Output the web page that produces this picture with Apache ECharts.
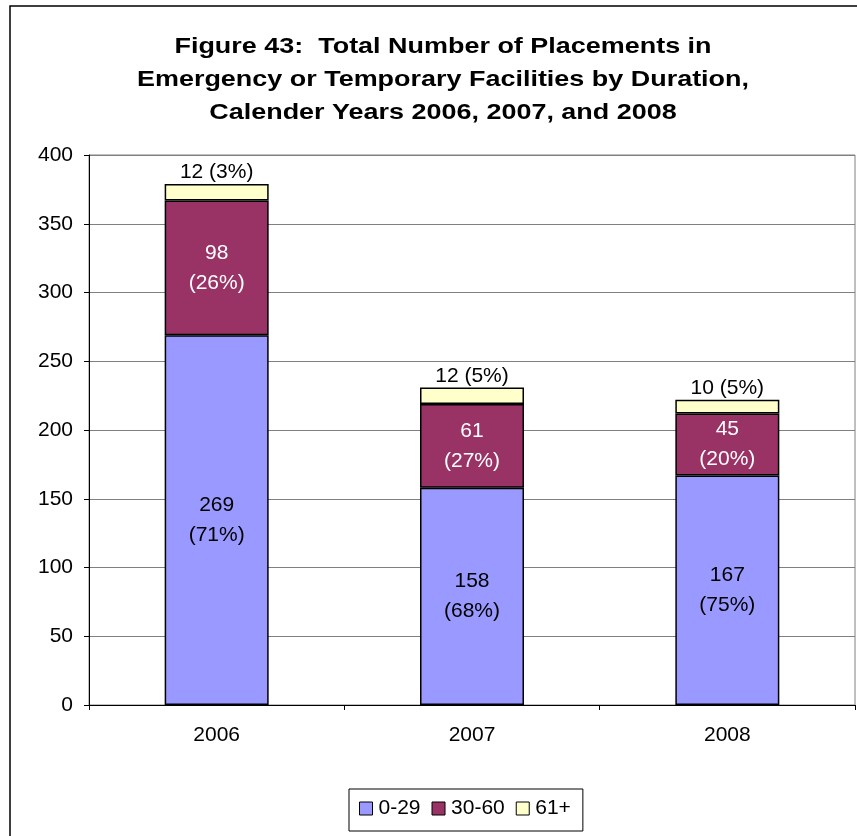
<!DOCTYPE html>
<html>
<head>
<meta charset="utf-8">
<script src="https://cdn.jsdelivr.net/npm/echarts@6/dist/echarts.min.js"></script>
<style>
  html, body { margin: 0; padding: 0; background: #fff; }
  #chart { width: 857px; height: 836px; }
</style>
</head>
<body>
<div id="chart"></div>
<script>
let years = ['2006', '2007', '2008']
let yTicks = [0, 50, 100, 150, 200, 250, 300, 350, 400]
let seriesNames = ['0-29', '30-60', '61+']
let short_vals = [269, 158, 167]
let short_pct = ['71%', '68%', '75%']
let mid_vals = [98, 61, 45]
let mid_pct = ['26%', '27%', '20%']
let long_vals = [12, 12, 10]
let long_pct = ['3%', '5%', '5%']
let titleLines = [
	'Figure 43:  Total Number of Placements in',
	'Emergency or Temporary Facilities by Duration,',
	'Calender Years 2006, 2007, and 2008'
]

let chart = echarts.init(document.getElementById('chart'));
let font = 'Liberation Sans, Arial, sans-serif'

// title drawn as graphic text so it can be stretched a bit wider (the original is spaced out)
let titleGraphics = titleLines.map((t, i) => ({
	type: 'text',
	x: 443,
	y: 47 + i * 33,
	scaleX: 1.225,
	silent: true,
	style: {
		text: t,
		fill: '#000',
		font: 'bold 22px ' + font,
		textAlign: 'center',
		textVerticalAlign: 'middle'
	}
}))

let option = {
	backgroundColor: '#fff',
	animation: false,
	color: ['#9999FF', '#993366', '#FFFFCC'],
	graphic: [{
		// outer chart frame
		type: 'rect',
		shape: { x: 10, y: 6, width: 900, height: 900 },
		style: { fill: 'none', stroke: '#000', lineWidth: 1.5 },
		silent: true
	}].concat(titleGraphics),
	legend: {
		data: seriesNames,
		icon: 'rect',
		left: 349,
		top: 789,
		padding: [9, 12, 12, 10],
		itemWidth: 13,
		itemHeight: 13,
		itemGap: 11,
		borderColor: '#000',
		borderWidth: 1,
		itemStyle: { borderColor: '#000', borderWidth: 1 },
		textStyle: { fontFamily: font, fontSize: 21, color: '#000', padding: [0, 0, 0, 1] }
	},
	grid: {
		left: 89,
		top: 155,
		right: 2,
		bottom: 131,
		show: true,
		borderColor: '#808080',
		borderWidth: 1
	},
	xAxis: {
		type: 'category',
		data: years,
		axisLine: { lineStyle: { color: '#000', width: 1 } },
		axisTick: { show: true, length: 5, lineStyle: { color: '#000' } },
		axisLabel: { margin: 20, fontFamily: font, fontSize: 21, color: '#000' }
	},
	yAxis: {
		type: 'value',
		min: yTicks[0],
		max: yTicks[yTicks.length - 1],
		interval: 50,
		axisLine: { show: true, lineStyle: { color: '#000', width: 1 } },
		axisTick: { show: true, length: 5, lineStyle: { color: '#000' } },
		axisLabel: { margin: 16, fontFamily: font, fontSize: 21, color: '#000' },
		splitLine: { lineStyle: { color: '#808080', width: 1 } }
	},
	series: [{
			name: seriesNames[0],
			type: 'bar',
			stack: 'total',
			barWidth: 104,
			itemStyle: { borderColor: '#000', borderWidth: 1.5 },
			label: {
				show: true,
				position: 'inside',
				fontFamily: font,
				fontSize: 21,
				lineHeight: 30,
				color: '#000',
				formatter: p => short_vals[p.dataIndex] + '\n(' + short_pct[p.dataIndex] + ')'
			},
			data: short_vals
		},
		{
			name: seriesNames[1],
			type: 'bar',
			stack: 'total',
			barWidth: 104,
			itemStyle: { borderColor: '#000', borderWidth: 1.5 },
			label: {
				show: true,
				position: 'inside',
				fontFamily: font,
				fontSize: 21,
				lineHeight: 30,
				color: '#fff',
				formatter: p => mid_vals[p.dataIndex] + '\n(' + mid_pct[p.dataIndex] + ')'
			},
			data: mid_vals
		},
		{
			name: seriesNames[2],
			type: 'bar',
			stack: 'total',
			barWidth: 104,
			itemStyle: { borderColor: '#000', borderWidth: 1.5 },
			label: {
				show: true,
				position: 'top',
				distance: 1,
				fontFamily: font,
				fontSize: 21,
				color: '#000',
				formatter: p => long_vals[p.dataIndex] + ' (' + long_pct[p.dataIndex] + ')'
			},
			data: long_vals
		}
	]
};
chart.setOption(option)
</script>
</body>
</html>
